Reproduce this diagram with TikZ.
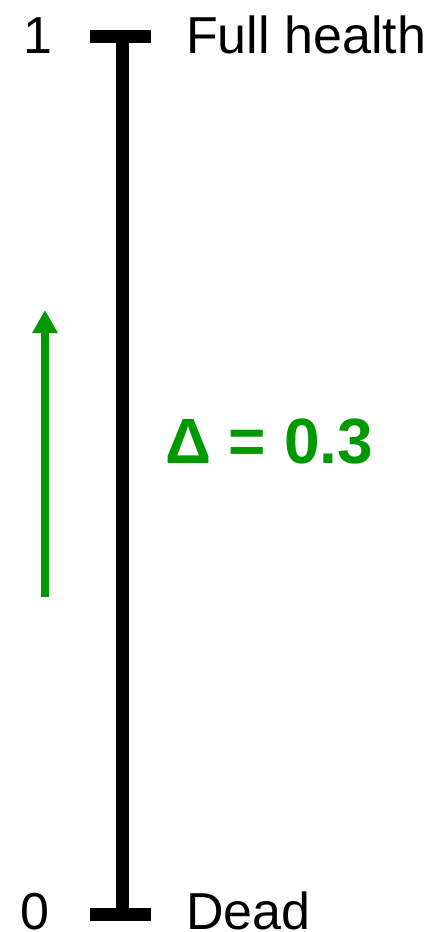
\documentclass[tikz,border=0pt]{standalone}
\usepackage{fontspec}
\setmainfont{Liberation Sans}
\usetikzlibrary{arrows.meta}
\definecolor{dgreen}{RGB}{0,153,0}
\begin{document}
\begin{tikzpicture}[x=1pt,y=1pt,
  lbl/.style={inner sep=0pt,anchor=base west,font=\fontsize{52}{60}\selectfont},
  bar/.style={line width=13pt,black},
  greenarrow/.style={line width=8pt,dgreen,-{Triangle[width=24pt,length=23pt]}}]
\useasboundingbox (0,0) rectangle (433,-932);
\coordinate (tl) at (90,-36);
\coordinate (tr) at (151,-36);
\coordinate (tm) at (122.5,-36);
\coordinate (bl) at (90,-914.5);
\coordinate (br) at (151,-914.5);
\coordinate (bm) at (122.5,-914.5);
\draw[bar] (tl) -- (tr);
\draw[bar] (bl) -- (br);
\draw[bar] (tm) -- (bm);
\node[lbl] (one) at (23.6,-53) {1};
\node[lbl] (zero) at (19.8,-929) {0};
\node[lbl] (full) at (186,-53) {Full health};
\node[lbl] (dead) at (186,-929) {Dead};
\node[inner sep=0pt,anchor=base west,text=dgreen,font=\fontsize{64}{74}\selectfont\bfseries] (delta) at (165,-463) {Δ = 0.3};
\coordinate (as) at (45,-597);
\coordinate (ae) at (45,-310);
\draw[greenarrow] (as) -- (ae);
\end{tikzpicture}
\end{document}
